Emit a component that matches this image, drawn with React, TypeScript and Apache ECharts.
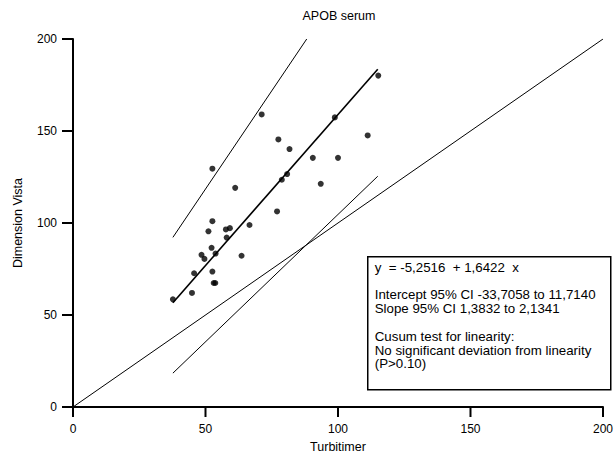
import React, { useEffect, useRef } from "react";
import * as echarts from "echarts";

const FONT = "'Liberation Sans', Arial, Helvetica, sans-serif";

const xTicks = [0, 50, 100, 150, 200];
const yTicks = [0, 50, 100, 150, 200];

const turbitimer = [
  37.7, 44.9, 45.7, 48.5, 49.6, 51.1, 52.6, 52.6, 52.3, 52.6, 53.1, 53.7, 53.8,
  57.7, 59.2, 58.0, 61.2, 63.6, 66.6, 71.2, 77.0, 77.5, 78.8, 80.8, 81.7, 90.5,
  93.5, 98.8, 100.0, 111.2, 115.2,
];
const dimensionVista = [
  58.5, 62.0, 72.7, 82.7, 80.5, 95.5, 129.5, 101.0, 86.5, 73.6, 67.4, 67.4, 83.4,
  96.5, 97.2, 92.1, 119.1, 82.2, 98.9, 159.0, 106.3, 145.4, 123.5, 126.6, 140.2,
  135.4, 121.3, 157.4, 135.4, 147.6, 180.1,
];

const identityLine = [[0, 0], [200, 200]];
const regressionLine = [[37.7, 56.7], [115.0, 183.6]];
const upperCILine = [[37.7, 92.2], [88.2, 200.0]];
const lowerCILine = [[37.7, 18.4], [115.0, 125.4]];

const legendLines = [
  "y  = -5,2516  + 1,6422  x",
  "",
  "Intercept 95% CI -33,7058 to 11,7140",
  "Slope 95% CI 1,3832 to 2,1341",
  "",
  "Cusum test for linearity:",
  "No significant deviation from linearity",
  "(P>0.10)",
];

export default function App() {
  const ref = useRef<HTMLDivElement>(null);
  useEffect(() => {
    if (!ref.current) return;
    const chart = echarts.init(ref.current, undefined, { renderer: "svg" });
    const points = turbitimer.map((x, i) => [x, dimensionVista[i]]);
    const mkLine = () => ({ show: true, onZero: false, lineStyle: { color: "#000", width: 2 } });
    const nameStyle = { color: "#000", fontSize: 12.5, fontFamily: FONT };
    const lineStyle = (w: number) => ({
      type: "line" as const,
      symbol: "none",
      lineStyle: { color: "#000", width: w },
      silent: true,
    });
    const labelCommon = { show: true, color: "#000", fontSize: 12, fontFamily: FONT, margin: 16 };
    chart.setOption({
      animation: false,
      backgroundColor: "#fff",
      title: {
        text: "APOB serum",
        left: 339,
        top: 9,
        padding: 0,
        textAlign: "center",
        textStyle: { color: "#000", fontSize: 12.5, fontWeight: "normal", fontFamily: FONT },
      },
      grid: { left: 73, right: 11, top: 39, bottom: 54 },
      xAxis: {
        type: "value",
        min: 0,
        max: 200,
        interval: 50,
        axisLine: mkLine(),
        axisTick: { show: false },
        splitLine: { show: false },
        name: "Turbitimer",
        nameLocation: "middle",
        nameGap: 33,
        nameTextStyle: nameStyle,
        axisLabel: { ...labelCommon, formatter: (v: number) => (xTicks.includes(v) ? String(v) : "") },
      },
      yAxis: {
        type: "value",
        min: 0,
        max: 200,
        interval: 50,
        axisLine: mkLine(),
        axisTick: { show: false },
        splitLine: { show: false },
        name: "Dimension Vista",
        nameLocation: "middle",
        nameGap: 49,
        nameTextStyle: nameStyle,
        axisLabel: { ...labelCommon, formatter: (v: number) => (yTicks.includes(v) ? String(v) : "") },
      },
      series: [
        { name: "identity", ...lineStyle(1), data: identityLine },
        { name: "upper", ...lineStyle(1), data: upperCILine },
        { name: "lower", ...lineStyle(1), data: lowerCILine },
        { name: "regression", ...lineStyle(1.6), data: regressionLine },
        {
          name: "points",
          type: "scatter",
          symbol: "circle",
          symbolSize: 6,
          itemStyle: { color: "#000" },
          data: points,
        },
      ],
    });

    // Tick marks placed through the chart's own axis scales
    const tickEls: any[] = [];
    xTicks.forEach((v) => {
      const p = chart.convertToPixel({ xAxisIndex: 0, yAxisIndex: 0 }, [v, 0]) as number[];
      tickEls.push({
        type: "rect",
        z: 100,
        shape: { x: p[0] - 1, y: p[1], width: 2, height: 10 },
        style: { fill: "#000" },
        silent: true,
      });
    });
    yTicks.forEach((v) => {
      const p = chart.convertToPixel({ xAxisIndex: 0, yAxisIndex: 0 }, [0, v]) as number[];
      tickEls.push({
        type: "rect",
        z: 100,
        shape: { x: p[0] - 11, y: p[1] - 1, width: 11, height: 2 },
        style: { fill: "#000" },
        silent: true,
      });
    });

    chart.setOption({
      graphic: [
        ...tickEls,
        {
          type: "group",
          left: 367,
          top: 256,
          children: [
            {
              type: "rect",
              shape: { x: 0, y: 0, width: 243, height: 133 },
              style: { fill: "#fff", stroke: "#000", lineWidth: 1.5 },
            },
            ...legendLines.map((t, i) => ({
              type: "text",
              x: 7,
              y: 4 + i * 13.8,
              style: {
                text: t,
                fill: "#000",
                fontSize: 13.3,
                fontFamily: FONT,
                textVerticalAlign: "top",
              },
            })),
          ],
        },
      ],
    });
    return () => chart.dispose();
  }, []);
  return (
    <div
      ref={ref}
      style={{ position: "fixed", left: 0, top: 0, width: 616, height: 461, background: "#fff" }}
    />
  );
}
